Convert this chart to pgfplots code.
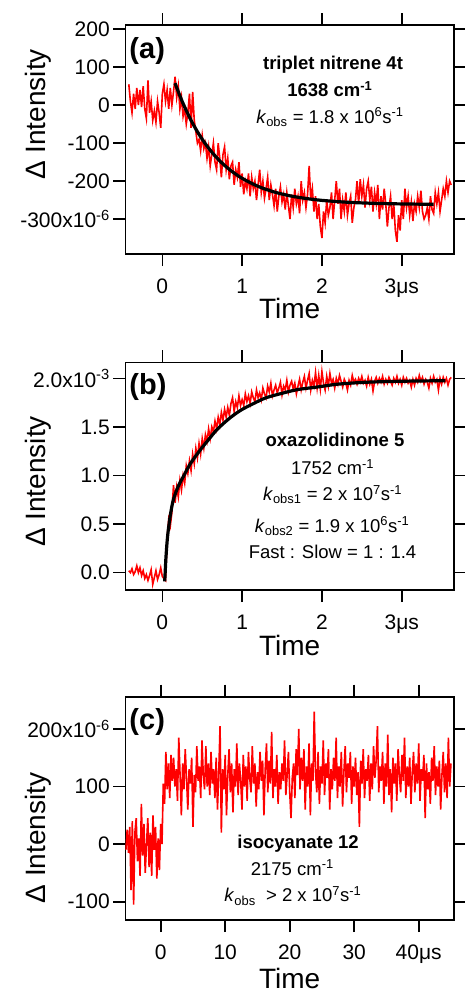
\documentclass[border=0pt]{standalone}
\usepackage{fontspec}
\setmainfont{Liberation Sans}
\usepackage{pgfplots}
\pgfplotsset{compat=1.18}
\pgfplotsset{
  panel/.style={
    scale only axis, width=328.7pt,
    tick align=outside, major tick length=12pt,
    axis line style={line width=1.6pt},
    tick style={line width=1.6pt, black},
    tick label style={font=\fontsize{21}{25}\selectfont},
    xticklabel style={anchor=base, yshift=-27pt},
    label style={font=\fontsize{28}{32}\selectfont},
    xlabel={Time}, ylabel={Δ Intensity},
    clip=true,
  },
}
\tikzset{
  ann/.style={anchor=base, font=\fontsize{18.5}{22}\selectfont, inner sep=0pt},
  bann/.style={anchor=base, font=\bfseries\fontsize{18.5}{22}\selectfont, inner sep=0pt},
  tag/.style={anchor=base west, font=\bfseries\fontsize{29}{34}\selectfont, inner sep=0pt},
}
\begin{document}
\begin{tikzpicture}
\useasboundingbox (0,0) rectangle (464pt,-992pt);
% ---------------- (a)
\begin{axis}[panel, at={(125.3pt,-254pt)}, anchor=south west, height=229pt,
  xmin=-0.464, xmax=3.655, ymin=-392, ymax=211,
  xtick={0,1,2,3}, xticklabels={0,1,2,3μs},
  ytick={-300,-200,-100,0,100,200},
  yticklabels={-300x10\textsuperscript{-6},-200,-100,0,100,200},
  xlabel style={at={(axis description cs:0.5,-0.2795)}, anchor=base},
  ylabel style={at={(axis description cs:-0.2443,0.609)}, anchor=base},
]
\addplot[red, line width=1.6pt] table {
-0.42 55
-0.40 10
-0.38 -20
-0.36 30
-0.34 -10
-0.32 45
-0.30 0
-0.28 40
-0.26 -5
-0.24 50
-0.22 -10
-0.20 -35
-0.18 65
-0.16 -20
-0.14 10
-0.12 -40
-0.10 -15
-0.08 -45
-0.06 10
-0.04 -20
-0.02 -60
0.00 30
0.02 55
0.04 10
0.06 40
0.08 -10
0.10 45
0.12 0
0.14 35
0.16 75
0.18 20
0.20 50
0.22 -10
0.24 20
0.26 -30
0.28 -10
0.30 -50
0.32 -20
0.34 30
0.36 -60
0.38 35
0.40 -40
0.42 -70
0.44 -100
0.46 -90
0.48 -120
0.50 -80
0.52 -115
0.54 -100
0.56 -140
0.58 -110
0.60 -160
0.62 -130
0.64 -100
0.66 -150
0.68 -170
0.70 -100
0.72 -140
0.74 -190
0.76 -130
0.78 -110
0.80 -170
0.82 -140
0.84 -195
0.86 -160
0.88 -150
0.90 -210
0.92 -170
0.94 -190
0.96 -150
0.98 -215
1.00 -180
1.02 -235
1.04 -200
1.06 -220
1.08 -180
1.10 -240
1.12 -190
1.14 -220
1.16 -200
1.18 -250
1.20 -210
1.22 -170
1.24 -230
1.26 -200
1.28 -245
1.30 -220
1.32 -190
1.34 -250
1.36 -210
1.38 -235
1.40 -265
1.42 -220
1.44 -280
1.46 -240
1.48 -215
1.50 -255
1.52 -235
1.54 -275
1.56 -230
1.58 -265
1.60 -300
1.62 -235
1.64 -270
1.66 -220
1.68 -260
1.70 -240
1.72 -285
1.74 -200
1.76 -250
1.78 -230
1.80 -270
1.82 -235
1.84 -160
1.86 -250
1.88 -220
1.90 -280
1.92 -240
1.94 -300
1.96 -260
1.98 -320
2.00 -350
2.02 -280
2.04 -310
2.06 -250
2.08 -290
2.10 -270
2.12 -230
2.14 -300
2.16 -250
2.18 -200
2.20 -260
2.22 -220
2.24 -300
2.26 -250
2.28 -280
2.30 -230
2.32 -290
2.34 -260
2.36 -240
2.38 -310
2.40 -270
2.42 -250
2.44 -200
2.46 -260
2.48 -195
2.50 -240
2.52 -210
2.54 -270
2.56 -220
2.58 -200
2.60 -250
2.62 -215
2.64 -280
2.66 -230
2.68 -260
2.70 -210
2.72 -300
2.74 -240
2.76 -275
2.78 -220
2.80 -260
2.82 -320
2.84 -270
2.86 -240
2.88 -300
2.90 -260
2.92 -330
2.94 -360
2.96 -290
2.98 -330
3.00 -250
3.02 -300
3.04 -220
3.06 -270
3.08 -240
3.10 -290
3.12 -255
3.14 -305
3.16 -260
3.18 -280
3.20 -240
3.22 -270
3.24 -225
3.26 -280
3.28 -300
3.30 -290
3.32 -270
3.34 -300
3.36 -240
3.38 -275
3.40 -285
3.42 -230
3.44 -260
3.46 -230
3.48 -280
3.50 -250
3.52 -220
3.54 -240
3.56 -200
3.58 -230
3.60 -200
3.62 -210
};
\addplot[black, line width=3.2pt, smooth] table {
0.159 58
0.25 9.2
0.35 -36
0.45 -73.6
0.55 -104.9
0.65 -131.1
0.75 -152.8
0.85 -171
1.0 -192.7
1.2 -213.9
1.4 -228.6
1.6 -238.8
1.8 -245.8
2.0 -250.8
2.3 -255.5
2.6 -258.2
2.9 -259.8
3.2 -260.7
3.4 -261.1
};
\node[tag] at (axis cs:-0.414,123.7) {(a)};
\node[bann] at (axis cs:2.139,94.7) {triplet nitrene 4t};
\node[bann] at (axis cs:2.10,22.6) {1638 cm\textsuperscript{-1}};
\node[ann] at (axis cs:2.10,-47.4) {\textit{k}\textsubscript{obs} = 1.8 x 10\textsuperscript{6}s\textsuperscript{-1}};
\end{axis}
% ---------------- (b)
\begin{axis}[panel, at={(125.3pt,-590pt)}, anchor=south west, height=227.7pt,
  xmin=-0.464, xmax=3.655, ymin=-0.179, ymax=2.165,
  xtick={0,1,2,3}, xticklabels={0,1,2,3μs},
  ytick={0,0.5,1,1.5,2},
  yticklabels={0.0,0.5,1.0,1.5,2.0x10\textsuperscript{-3}},
  xlabel style={at={(axis description cs:0.5,-0.2855)}, anchor=base},
  ylabel style={at={(axis description cs:-0.2443,0.4765)}, anchor=base},
]
\addplot[red, line width=1.6pt] table {
-0.42 0.02
-0.40 0.0
-0.38 0.04
-0.36 -0.02
-0.34 0.01
-0.32 0.07
-0.30 0.0
-0.28 0.05
-0.26 -0.03
-0.24 0.02
-0.22 -0.06
-0.20 -0.02
-0.18 -0.08
-0.16 -0.03
-0.14 0.03
-0.12 -0.12
-0.10 -0.05
-0.08 0.02
-0.06 -0.07
-0.04 -0.02
-0.02 0.05
0.00 -0.04
0.02 -0.06
0.04 -0.08
0.06 0.35
0.08 0.55
0.10 0.48
0.12 0.62
0.14 0.90
0.16 0.72
0.18 0.88
0.20 0.78
0.22 0.95
0.24 0.85
0.26 1.00
0.28 0.92
0.30 1.10
0.32 1.02
0.34 1.15
0.36 1.05
0.38 1.22
0.40 1.12
0.42 1.28
0.44 1.18
0.46 1.33
0.48 1.22
0.50 1.38
0.52 1.28
0.54 1.42
0.56 1.35
0.58 1.48
0.60 1.38
0.62 1.50
0.64 1.45
0.66 1.56
0.68 1.48
0.70 1.60
0.72 1.52
0.74 1.65
0.76 1.57
0.78 1.68
0.80 1.60
0.82 1.70
0.84 1.62
0.86 1.74
0.88 1.80
0.90 1.66
0.92 1.76
0.94 1.70
0.96 1.82
0.98 1.72
1.00 1.78
1.02 1.72
1.04 1.84
1.06 1.76
1.08 1.82
1.10 1.74
1.12 1.86
1.14 1.80
1.16 1.76
1.18 1.88
1.20 1.80
1.22 1.85
1.24 1.78
1.26 1.90
1.28 1.84
1.30 1.80
1.32 1.92
1.34 1.86
1.36 1.95
1.38 1.82
1.40 1.88
1.42 1.93
1.44 1.85
1.46 1.90
1.48 1.96
1.50 1.83
1.52 1.92
1.54 1.88
1.56 1.98
1.58 1.86
1.60 1.93
1.62 1.97
1.64 1.89
1.66 1.95
1.68 1.84
1.70 1.92
1.72 1.99
1.74 1.88
1.76 1.96
1.78 2.02
1.80 1.90
1.82 1.98
1.84 2.05
1.86 1.88
1.88 1.98
1.90 1.92
1.92 2.06
1.94 1.90
1.96 2.03
1.98 1.89
2.00 2.07
2.02 1.95
2.04 1.88
2.06 2.02
2.08 1.92
2.10 2.05
2.12 1.95
2.14 1.99
2.16 1.90
2.18 2.00
2.20 1.94
2.22 2.03
2.24 1.97
2.26 1.91
2.28 1.99
2.30 1.95
2.32 1.88
2.34 1.98
2.36 1.93
2.38 2.03
2.40 1.96
2.42 1.99
2.44 1.94
2.46 2.00
2.48 1.96
2.50 2.02
2.52 1.95
2.54 1.98
2.56 1.92
2.58 2.01
2.60 1.94
2.62 1.99
2.64 1.87
2.66 1.97
2.68 2.01
2.70 1.95
2.72 2.00
2.74 1.96
2.76 2.02
2.78 1.94
2.80 1.99
2.82 1.95
2.84 2.01
2.86 1.97
2.88 1.93
2.90 2.00
2.92 1.96
2.94 2.02
2.96 1.95
2.98 1.99
3.00 1.93
3.02 2.01
3.04 1.96
3.06 2.00
3.08 1.95
3.10 1.98
3.12 1.91
3.14 1.99
3.16 1.93
3.18 2.00
3.20 1.96
3.22 2.03
3.24 1.97
3.26 2.01
3.28 1.94
3.30 1.99
3.32 1.96
3.34 1.90
3.36 2.00
3.38 1.95
3.40 2.02
3.42 1.96
3.44 1.99
3.46 1.88
3.48 2.00
3.50 1.94
3.52 2.01
3.54 1.96
3.56 2.00
3.58 1.93
3.60 1.99
3.62 2.01
};
\addplot[black, line width=3.2pt, smooth] table {
0.03 -0.09
0.045 0.15
0.06 0.32
0.075 0.44
0.10 0.59
0.138 0.75
0.20 0.89
0.264 0.99
0.35 1.12
0.473 1.26
0.58 1.37
0.682 1.47
0.80 1.56
0.891 1.62
1.00 1.68
1.142 1.74
1.30 1.80
1.519 1.85
1.70 1.885
1.937 1.91
2.2 1.94
2.565 1.96
3.0 1.97
3.548 1.976
};
\node[tag] at (axis cs:-0.414,1.829) {(b)};
\node[bann] at (axis cs:2.164,1.295) {oxazolidinone 5};
\node[ann] at (axis cs:2.133,1.009) {1752 cm\textsuperscript{-1}};
\node[ann] at (axis cs:2.133,0.744) {\textit{k}\textsubscript{obs1} = 2 x 10\textsuperscript{7}s\textsuperscript{-1}};
\node[ann] at (axis cs:2.127,0.417) {\textit{k}\textsubscript{obs2} = 1.9 x 10\textsuperscript{6}s\textsuperscript{-1}};
\node[ann] at (axis cs:2.133,0.149) {Fast : Slow = 1 : 1.4};
\end{axis}
% ---------------- (c)
\begin{axis}[panel, at={(125.3pt,-920pt)}, anchor=south west, height=223.3pt,
  xmin=-5.49, xmax=45.47, ymin=-131.8, ymax=256,
  xtick={0,10,20,30,40}, xticklabels={0,10,20,30,40μs},
  ytick={-100,0,100,200},
  yticklabels={-100,0,100,200x10\textsuperscript{-6}},
  xlabel style={at={(axis description cs:0.5,-0.3045)}, anchor=base},
  ylabel style={at={(axis description cs:-0.2443,0.367)}, anchor=base},
]
\addplot[red, line width=1.6pt] table {
-5.4 -10
-5.2 25
-5.0 -15
-4.8 30
-4.6 -80
-4.4 40
-4.2 -105
-4.0 20
-3.8 45
-3.6 -30
-3.4 10
-3.2 -55
-3.0 70
-2.8 -20
-2.6 35
-2.4 -50
-2.2 0
-2.0 45
-1.8 -40
-1.6 20
-1.4 -55
-1.2 50
-1.0 -10
-0.8 30
-0.6 -60
-0.4 10
-0.2 -45
0.0 35
0.2 0
0.4 105
0.6 70
0.8 160
1.0 95
1.2 140
1.4 80
1.6 155
1.8 110
2.0 150
2.2 100
2.4 130
2.6 75
2.8 185
3.0 120
3.2 50
3.4 140
3.6 95
3.8 165
4.0 115
4.2 60
4.4 130
4.6 105
4.8 150
5.0 30
5.2 120
5.4 90
5.6 170
5.8 110
6.0 135
6.2 80
6.4 180
6.6 120
6.8 95
7.0 170
7.2 100
7.4 140
7.6 85
7.8 160
8.0 105
8.2 130
8.4 80
8.6 150
8.8 60
9.0 125
9.2 205
9.4 20
9.6 130
9.8 95
10.0 155
10.2 50
10.4 120
10.6 165
10.8 90
11.0 140
11.2 55
11.4 130
11.6 100
11.8 175
12.0 85
12.2 140
12.4 110
12.6 60
12.8 155
13.0 100
13.2 135
13.4 75
13.6 160
13.8 115
14.0 90
14.2 170
14.4 105
14.6 140
14.8 65
15.0 125
15.2 95
15.4 160
15.6 110
15.8 145
16.0 50
16.2 130
16.4 175
16.6 90
16.8 145
17.0 105
17.2 195
17.4 80
17.6 130
17.8 100
18.0 155
18.2 70
18.4 125
18.6 95
18.8 140
19.0 110
19.2 180
19.4 85
19.6 120
19.8 160
20.0 90
20.2 45
20.4 115
20.6 140
20.8 80
21.0 165
21.2 120
21.4 200
21.6 95
21.8 150
22.0 110
22.2 165
22.4 60
22.6 135
22.8 100
23.0 175
23.2 50
23.4 140
23.6 110
23.8 230
24.0 125
24.2 90
24.4 160
24.6 70
24.8 135
25.0 105
25.2 180
25.4 85
25.6 140
25.8 115
26.0 165
26.2 60
26.4 130
26.6 95
26.8 150
27.0 110
27.2 185
27.4 80
27.6 135
27.8 100
28.0 160
28.2 65
28.4 125
28.6 170
28.8 90
29.0 140
29.2 115
29.4 160
29.6 70
29.8 135
30.0 100
30.2 150
30.4 85
30.6 125
30.8 30
31.0 145
31.2 105
31.4 165
31.6 80
31.8 130
32.0 110
32.2 155
32.4 75
32.6 140
32.8 95
33.0 170
33.2 115
33.4 145
33.6 205
33.8 90
34.0 135
34.2 110
34.4 160
34.6 70
34.8 140
35.0 100
35.2 190
35.4 85
35.6 130
35.8 55
36.0 150
36.2 105
36.4 140
36.6 75
36.8 165
37.0 120
37.2 90
37.4 155
37.6 110
37.8 185
38.0 80
38.2 135
38.4 100
38.6 150
38.8 70
39.0 125
39.2 160
39.4 90
39.6 140
39.8 105
40.0 175
40.2 75
40.4 130
40.6 110
40.8 155
41.0 45
41.2 140
41.4 95
41.6 125
41.8 70
42.0 150
42.2 110
42.4 170
42.6 85
42.8 135
43.0 100
43.2 145
43.4 60
43.6 120
43.8 160
44.0 90
44.2 140
44.4 80
44.6 185
44.8 100
45.0 140
};
\node[tag] at (axis cs:-4.87,199.7) {(c)};
\node[bann] at (axis cs:21.3,-7.5) {isocyanate 12};
\node[ann] at (axis cs:20.4,-53.8) {2175 cm\textsuperscript{-1}};
\node[ann] at (axis cs:20.5,-100) {\textit{k}\textsubscript{obs}\ \ > 2 x 10\textsuperscript{7}s\textsuperscript{-1}};
\end{axis}
\end{tikzpicture}
\end{document}
